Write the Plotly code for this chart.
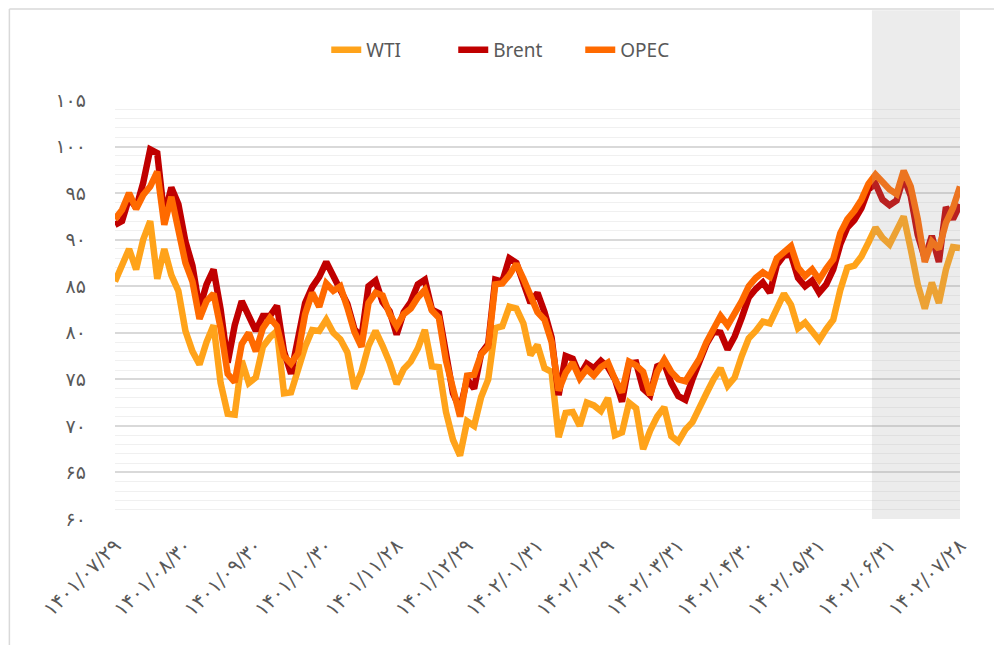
import plotly.graph_objects as go

FA = str.maketrans("0123456789", "۰۱۲۳۴۵۶۷۸۹")

# sample index (every other trading day); a date label every 10 samples
tick_labels = ["1401/07/29", "1401/08/30", "1401/09/30", "1401/10/30", "1401/11/28",
               "1401/12/29", "1402/01/31", "1402/02/29", "1402/03/31", "1402/04/30",
               "1402/05/31", "1402/06/31", "1402/07/28"]
y_ticks = [60, 65, 70, 75, 80, 85, 90, 95, 100, 105]

wti = [85.5, 87.3, 89.0, 86.8, 90.0, 92.0, 85.8, 89.0, 86.2, 84.5,
       80.2, 78.0, 76.6, 79.0, 80.8, 74.6, 71.3, 71.2, 77.0, 74.6,
       75.2, 78.5, 79.5, 80.2, 73.5, 73.6, 76.0, 78.5, 80.3, 80.2,
       81.4, 80.0, 79.3, 77.9, 74.0, 75.8, 78.6, 80.2, 78.6, 76.8,
       74.5, 76.1, 76.9, 78.3, 80.3, 76.4, 76.3, 71.5, 68.5, 66.8,
       70.5, 70.0, 73.1, 75.0, 80.5, 80.7, 82.8, 82.6, 81.0, 77.6,
       78.7, 76.2, 75.8, 68.8, 71.4, 71.5, 70.0, 72.5, 72.2, 71.6,
       73.0, 69.0, 69.3, 72.5, 71.9, 67.5, 69.5, 71.0, 72.0, 68.9,
       68.3, 69.6, 70.4, 71.8, 73.5, 75.0, 76.2, 74.3, 75.2, 77.5,
       79.4, 80.2, 81.2, 81.0, 82.8, 84.2, 83.0, 80.5, 81.1, 80.2,
       79.2, 80.4, 81.4, 84.6, 87.0, 87.2, 88.2, 89.7, 91.3, 90.2,
       89.5, 91.0, 92.5, 89.0, 85.2, 82.6, 85.4, 83.2, 86.8, 89.2,
       89.1]

brent = [91.6, 92.0, 94.5, 93.4, 96.1, 99.7, 99.3, 92.5, 95.6, 93.8,
         89.8, 87.2, 82.6, 85.2, 86.8, 82.5, 76.8, 80.8, 83.4, 81.8,
         80.2, 81.8, 81.8, 82.9, 78.0, 75.6, 79.3, 83.2, 84.9, 86.0,
         87.6, 86.1, 84.8, 83.1, 80.4, 79.5, 85.0, 85.6, 83.3, 82.3,
         79.8, 82.2, 83.3, 85.2, 85.7, 82.5, 82.1, 77.5, 73.5, 71.8,
         75.0, 74.0, 77.8, 78.8, 85.7, 85.5, 88.0, 87.5, 85.4, 83.2,
         84.3, 82.2, 79.5, 73.3, 77.5, 77.2, 75.4, 76.7, 76.2, 77.0,
         76.3, 75.0, 72.6, 76.7, 76.8, 74.0, 73.3, 76.4, 76.7, 74.6,
         73.2, 72.8, 75.0, 76.8, 78.8, 80.1, 80.0, 78.2, 79.6, 81.6,
         83.8, 84.7, 85.4, 84.3, 87.3, 88.3, 88.4, 85.9, 85.0, 85.6,
         84.3, 85.2, 86.8, 89.5, 91.3, 92.1, 93.4, 95.4, 96.0, 94.3,
         93.7, 94.2, 96.7, 94.7, 90.5, 88.0, 90.4, 87.6, 93.5, 92.2,
         93.8]

opec = [92.2, 93.2, 95.0, 93.3, 94.8, 95.7, 97.3, 91.6, 94.6, 91.4,
        87.5, 85.5, 81.5, 83.4, 84.2, 80.5, 75.6, 74.7, 78.8, 80.0,
        78.0, 80.5, 81.6, 80.7, 77.5, 76.7, 77.8, 82.0, 84.3, 82.8,
        85.3, 84.5, 85.0, 82.7, 80.1, 78.5, 83.2, 84.3, 84.0, 82.0,
        80.7, 82.0, 82.6, 83.8, 84.6, 82.4, 81.6, 77.0, 73.8, 71.0,
        75.4, 75.5, 77.7, 78.5, 85.2, 85.3, 86.2, 87.4, 85.8, 83.9,
        82.2, 81.4, 79.0, 73.8, 75.7, 76.8, 75.1, 76.1, 75.4, 76.3,
        76.8, 75.0, 73.6, 76.9, 76.5, 75.8, 73.3, 75.8, 77.1, 75.8,
        75.0, 74.8, 76.1, 77.2, 79.0, 80.6, 81.8, 80.8, 82.0, 83.4,
        85.0, 85.9, 86.5, 86.0, 88.0, 88.6, 89.3, 87.0, 86.1, 86.8,
        85.7, 86.9, 87.9, 90.7, 92.2, 93.1, 94.3, 96.0, 97.0, 96.2,
        95.4, 94.9, 97.4, 95.7, 92.2, 87.6, 89.8, 89.0, 91.8, 93.4,
        95.7]

x = list(range(len(wti)))
label_step = 10
tick_pos = [i * label_step for i in range(len(tick_labels))]
shade_start = 107.5

series = [("WTI", wti, "#FFA31A"), ("Brent", brent, "#C00000"), ("OPEC", opec, "#FF6A00")]

fig = go.Figure()
for name, vals, col in series:
    fig.add_trace(go.Scatter(x=x, y=vals, name=name, mode="lines",
                             line=dict(color=col, width=6.5)))

grey = "#595959"
fig.update_layout(
    width=986, height=637,
    margin=dict(l=107, r=34, t=92, b=126),
    paper_bgcolor="white", plot_bgcolor="white",
    showlegend=True,
    legend=dict(orientation="h", x=0.25, xanchor="left", y=1.165, yanchor="top",
                font=dict(family="Noto Sans", size=19, color=grey),
                entrywidth=82, entrywidthmode="pixels", traceorder="normal"),
    xaxis=dict(range=[0, len(wti) - 1], tickmode="array", tickvals=tick_pos,
               ticktext=[t.translate(FA) for t in tick_labels], tickangle=-45,
               showgrid=False, zeroline=False, showline=False, ticks="",
               ticklabelstandoff=10,
               tickfont=dict(family="DejaVu Sans", size=20, color=grey)),
    yaxis=dict(range=[60, 105], tickmode="array", tickvals=y_ticks,
               ticktext=[str(v).translate(FA) for v in y_ticks],
               showgrid=True, gridcolor="#D9D9D9", gridwidth=1.5,
               zeroline=False, showline=False, ticks="", ticklabelstandoff=28,
               tickfont=dict(family="DejaVu Sans", size=19, color=grey),
               minor=dict(tickmode="linear", tick0=60, dtick=1, showgrid=True,
                          gridcolor="#F0F0F0", gridwidth=1)),
    shapes=[
        dict(type="rect", xref="x", yref="paper", x0=shade_start, x1=len(wti) - 1,
             y0=0, y1=1.214, fillcolor="rgba(160,160,160,0.2)", line=dict(width=0),
             layer="above"),
        dict(type="line", xref="paper", yref="paper", x0=-0.125, x1=-0.125,
             y0=-0.4, y1=1.217, line=dict(color="#D9D9D9", width=1.5)),
        dict(type="line", xref="paper", yref="paper", x0=-0.125, x1=1.1,
             y0=1.217, y1=1.217, line=dict(color="#D9D9D9", width=1.5)),
    ],
)

fig.write_html("out.html")
